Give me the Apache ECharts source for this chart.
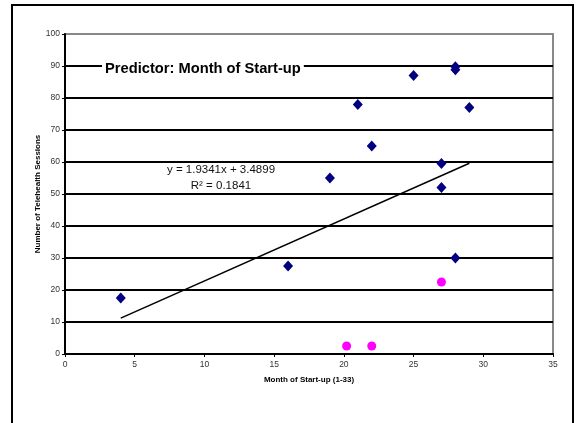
<!DOCTYPE html>
<html>
<head>
<meta charset="utf-8">
<style>
html,body{margin:0;padding:0;background:#fff;}
#chart{width:577px;height:423px;}
</style>
<script src="https://cdn.jsdelivr.net/npm/echarts@6/dist/echarts.min.js"></script>
</head>
<body>
<div id="chart"></div>
<script>
// Data
const programPoints = [
  [4, 17.5], [16, 27.5], [19, 55], [21, 78], [22, 65], [25, 87],
  [27, 59.5], [27, 52], [28, 89.8], [28, 88.8], [28, 30], [29, 77]
];
const otherPoints = [[20.2, 2.5], [22, 2.5], [27, 22.5]];
const trendLine = [[4, 11.2], [29, 59.6]];
const chartTitle = 'Predictor: Month of Start-up';
const equationText = 'y = 1.9341x + 3.4899';
const r2Text = 'R\u00B2 = 0.1841';
const xAxisName = 'Month of Start-up (1-33)';
const yAxisName = 'Number of Telehealth Sessions';

const FONT = '"Liberation Sans", Arial, sans-serif';
const chart = echarts.init(document.getElementById('chart'), null, {renderer: 'canvas'});
chart.setOption({
  animation: false,
  backgroundColor: '#fff',
  title: {
    text: chartTitle,
    left: 102, top: 60,
    backgroundColor: '#fff',
    padding: [1, 3],
    textStyle: {fontFamily: FONT, fontSize: 14.7, fontWeight: 'bold', color: '#000'}
  },
  grid: {
    left: 65, right: 24, top: 34, bottom: 69,
    show: true, borderColor: '#888', borderWidth: 2, backgroundColor: 'transparent'
  },
  xAxis: {
    type: 'value', min: 0, max: 35, interval: 5,
    name: xAxisName, nameLocation: 'middle', nameGap: 22, nameMoveOverlap: false,
    nameTextStyle: {fontFamily: FONT, fontSize: 8, fontWeight: 'bold', color: '#000'},
    axisLine: {show: true, lineStyle: {color: '#000', width: 2}},
    axisTick: {show: true, length: 3, lineStyle: {color: '#000', width: 1}},
    axisLabel: {fontFamily: FONT, fontSize: 8.5, color: '#333', margin: 6},
    splitLine: {show: false}
  },
  yAxis: {
    type: 'value', min: 0, max: 100, interval: 10,
    name: yAxisName, nameLocation: 'middle', nameGap: 23, nameMoveOverlap: false,
    nameTextStyle: {fontFamily: FONT, fontSize: 8, fontWeight: 'bold', color: '#000'},
    axisLine: {show: true, lineStyle: {color: '#000', width: 2}},
    axisTick: {show: true, length: 3, lineStyle: {color: '#000', width: 1}},
    axisLabel: {fontFamily: FONT, fontSize: 8.5, color: '#333', margin: 5},
    splitLine: {show: true, showMaxLine: false, showMinLine: false, lineStyle: {color: '#000', width: 2}}
  },
  series: [
    {
      type: 'line', data: trendLine, symbol: 'none', silent: true, z: 3,
      lineStyle: {color: '#000', width: 1.5}
    },
    {
      type: 'scatter', data: programPoints, symbol: 'diamond', symbolSize: [10, 11], z: 4,
      itemStyle: {color: '#000080', opacity: 1}
    },
    {
      type: 'scatter', data: otherPoints, symbol: 'circle', symbolSize: 9, z: 4,
      itemStyle: {color: '#FF00FF', opacity: 1}
    }
  ],
  graphic: [
    {
      type: 'rect', z: 10, silent: true,
      shape: {x: 12, y: 5, width: 561, height: 440},
      style: {fill: 'none', stroke: '#000', lineWidth: 2}
    },
    {
      type: 'text', z: 10, x: 221, y: 170,
      style: {text: equationText, fontFamily: FONT, fontSize: 11.5, fill: '#111', align: 'center', verticalAlign: 'middle'}
    },
    {
      type: 'text', z: 10, x: 221, y: 186,
      style: {text: r2Text, fontFamily: FONT, fontSize: 11.5, fill: '#111', align: 'center', verticalAlign: 'middle'}
    }
  ]
});
</script>
</body>
</html>
